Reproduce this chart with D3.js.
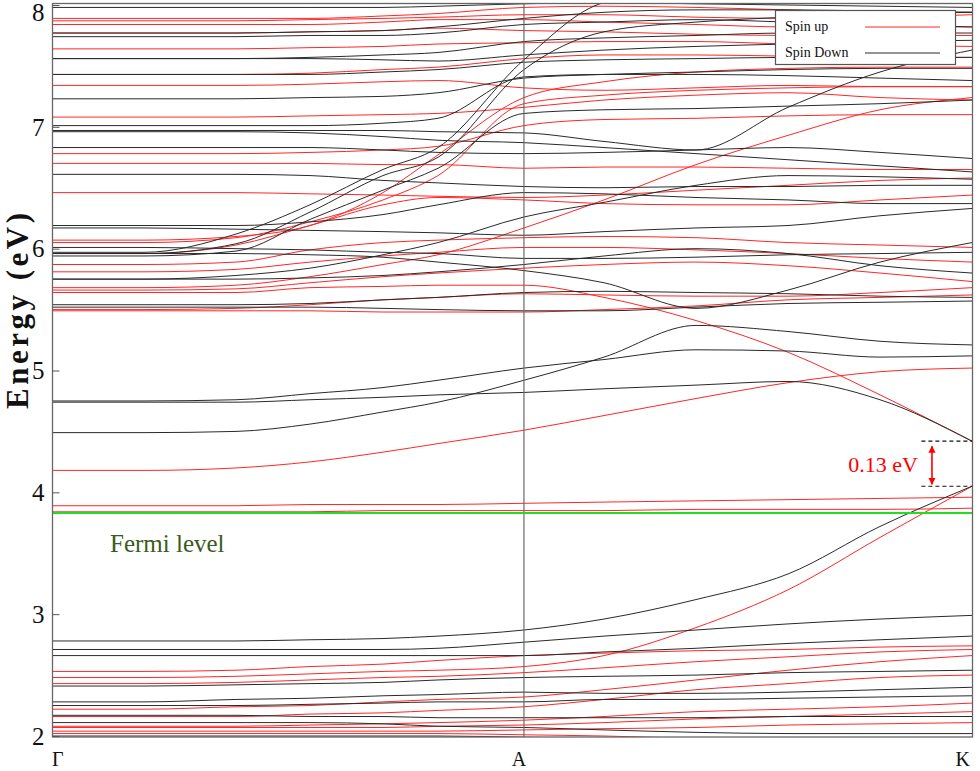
<!DOCTYPE html>
<html><head><meta charset="utf-8">
<script src="https://cdn.jsdelivr.net/npm/d3@7"></script>
<style>
body{margin:0;background:#fff}
svg text{font-family:"Liberation Serif","Times New Roman",serif}
</style>
</head><body>
<svg id="chart" width="980" height="771"></svg>
<script>
// ---- data ----
const kPath = [0, 0.1, 0.2, 0.2804, 0.3598, 0.4196, 0.513, 0.6, 0.7, 0.8, 0.9, 1];
const kTickPos = [0, 0.513, 1];
const kLabels = ["Γ", "A", "K"];
const yTicks = [2, 3, 4, 5, 6, 7, 8];
const fermiLevel = 3.83;
const gapTop = 4.42, gapBottom = 4.05;
const gapLabel = "0.13 eV";
const gapMarkerK = [0.945, 1];
const gapArrowK = 0.9565;
const legendLabels = ["Spin up", "Spin Down"];

// spin up (red) bands, energies (eV) at kPath
const spinUp = [
  [7.89,7.89,7.89,7.89,7.91,7.93,7.98,7.99,7.98,7.96,7.94,7.94],
  [7.87,7.87,7.87,7.88,7.89,7.90,7.92,7.92,7.90,7.89,7.90,7.92],
  [7.84,7.84,7.84,7.84,7.86,7.88,7.88,7.86,7.84,7.82,7.82,7.82],
  [7.77,7.77,7.77,7.78,7.79,7.81,7.79,7.78,7.76,7.75,7.75,7.75],
  [7.64,7.64,7.64,7.65,7.66,7.68,7.69,7.70,7.70,7.68,7.67,7.66],
  [7.43,7.43,7.43,7.44,7.47,7.49,7.56,7.59,7.59,7.58,7.57,7.57],
  [7.34,7.34,7.34,7.35,7.37,7.38,7.32,7.30,7.32,7.34,7.33,7.33],
  [7.08,7.08,7.08,7.09,7.10,7.11,7.16,7.22,7.26,7.28,7.24,7.22],
  [6.78,6.78,6.78,6.79,6.81,6.84,7.01,7.06,7.07,7.09,7.10,7.10],
  [6.70,6.70,6.70,6.70,6.69,6.69,6.66,6.67,6.67,6.66,6.65,6.65],
  [6.46,6.46,6.46,6.45,6.44,6.43,6.42,6.44,6.48,6.52,6.56,6.58],
  [5.68,5.68,5.70,5.77,5.87,5.95,6.17,6.40,6.69,6.93,7.14,7.24],
  [6.07,6.07,6.10,6.19,6.46,6.77,7.24,7.37,7.45,7.48,7.49,7.49],
  [6.05,6.05,6.09,6.22,6.40,6.60,7.19,7.26,7.30,7.32,7.33,7.33],
  [5.96,5.96,6.03,6.19,6.36,6.42,6.40,6.37,6.36,6.36,6.40,6.44],
  [5.87,5.87,5.89,5.99,6.05,6.07,6.09,6.10,6.09,6.05,6.03,6.01],
  [5.81,5.81,5.83,5.89,5.94,5.97,6.01,6.01,5.99,5.96,5.92,5.89],
  [5.66,5.66,5.67,5.72,5.77,5.80,5.84,5.87,5.89,5.86,5.80,5.73],
  [5.64,5.64,5.64,5.68,5.69,5.70,5.70,5.60,5.41,5.15,4.80,4.42],
  [5.50,5.50,5.51,5.54,5.58,5.60,5.63,5.62,5.61,5.61,5.64,5.68],
  [5.49,5.49,5.49,5.49,5.48,5.48,5.48,5.50,5.53,5.58,5.60,5.62],
  [4.18,4.18,4.20,4.25,4.33,4.40,4.51,4.63,4.77,4.90,4.99,5.02],
  [3.89,3.89,3.89,3.90,3.90,3.90,3.91,3.92,3.93,3.94,3.95,3.96],
  [3.84,3.84,3.84,3.84,3.85,3.85,3.85,3.85,3.86,3.86,3.86,3.87],
  [2.53,2.53,2.54,2.57,2.59,2.62,2.66,2.68,2.70,2.71,2.73,2.74],
  [2.48,2.48,2.49,2.51,2.53,2.54,2.57,2.66,2.89,3.20,3.63,4.05],
  [2.43,2.43,2.44,2.46,2.48,2.49,2.52,2.56,2.61,2.65,2.69,2.71],
  [2.22,2.22,2.24,2.25,2.28,2.30,2.32,2.38,2.46,2.54,2.61,2.66],
  [2.16,2.16,2.16,2.18,2.19,2.21,2.24,2.30,2.38,2.43,2.48,2.50],
  [2.08,2.08,2.08,2.09,2.10,2.11,2.13,2.16,2.20,2.22,2.24,2.27],
  [2.07,2.07,2.07,2.07,2.07,2.08,2.09,2.11,2.14,2.16,2.18,2.20],
  [2.04,2.04,2.04,2.04,2.04,2.04,2.05,2.06,2.07,2.09,2.10,2.11],
  [2.02,2.02,2.02,2.02,2.02,2.02,2.01,2.00,1.98,1.97,1.95,1.93]
];

// spin down (black) bands
const spinDown = [
  [7.98,7.98,7.98,7.98,7.98,7.99,8.01,8.02,8.01,8.00,7.99,7.98],
  [7.77,7.77,7.77,7.78,7.79,7.82,7.89,7.94,7.96,7.96,7.95,7.94],
  [7.74,7.74,7.74,7.75,7.75,7.77,7.84,7.86,7.88,7.86,7.84,7.82],
  [7.56,7.56,7.56,7.57,7.59,7.61,7.70,7.73,7.75,7.77,7.77,7.77],
  [7.56,7.56,7.56,7.56,7.55,7.54,7.59,7.63,7.66,7.68,7.70,7.71],
  [7.43,7.43,7.43,7.43,7.45,7.47,7.53,7.55,7.56,7.57,7.57,7.57],
  [7.23,7.23,7.23,7.24,7.25,7.28,7.40,7.43,7.45,7.47,7.48,7.48],
  [7.01,7.01,7.01,7.01,7.03,7.07,7.41,7.43,7.43,7.42,7.40,7.38],
  [6.97,6.97,6.97,6.97,6.97,6.96,6.95,6.88,6.81,7.16,7.45,7.63],
  [6.96,6.96,6.96,6.95,6.92,6.89,6.87,6.83,6.78,6.73,6.68,6.63],
  [6.83,6.83,6.83,6.83,6.81,6.79,6.78,6.79,6.81,6.83,6.79,6.74],
  [6.61,6.61,6.61,6.60,6.56,6.54,6.51,6.50,6.51,6.51,6.52,6.52],
  [6.19,6.19,6.19,6.22,6.28,6.36,6.46,6.45,6.42,6.40,6.37,6.37],
  [6.17,6.17,6.16,6.15,6.14,6.13,6.11,6.14,6.17,6.19,6.27,6.33],
  [6.01,6.01,6.00,5.99,5.97,5.96,5.92,5.92,5.93,5.95,5.96,5.97],
  [5.97,5.97,6.12,6.36,6.65,6.83,7.55,8.02,8.12,8.12,8.12,8.12],
  [5.96,5.96,6.04,6.30,6.60,6.75,7.47,7.78,7.86,7.90,7.93,7.94],
  [5.94,5.94,5.98,6.24,6.48,6.66,7.11,7.14,7.15,7.17,7.19,7.22],
  [5.96,5.96,5.96,5.95,5.93,5.89,5.82,5.72,5.51,5.66,5.89,6.05],
  [5.75,5.75,5.75,5.76,5.78,5.81,5.87,5.94,6.00,5.96,5.86,5.80],
  [5.75,5.75,5.78,5.84,5.95,6.05,6.26,6.38,6.52,6.60,6.59,6.57],
  [5.54,5.54,5.54,5.55,5.58,5.60,5.64,5.65,5.64,5.63,5.61,5.60],
  [5.52,5.52,5.52,5.52,5.51,5.50,5.49,5.49,5.52,5.55,5.56,5.57],
  [4.49,4.49,4.50,4.56,4.66,4.74,4.92,5.11,5.37,5.32,5.24,5.21],
  [4.75,4.75,4.76,4.81,4.86,4.92,5.02,5.09,5.17,5.16,5.11,5.12],
  [4.74,4.74,4.74,4.76,4.78,4.80,4.82,4.85,4.88,4.91,4.76,4.42],
  [2.78,2.78,2.78,2.79,2.80,2.82,2.87,2.96,3.12,3.33,3.72,4.05],
  [2.71,2.71,2.71,2.71,2.71,2.72,2.77,2.82,2.87,2.92,2.96,2.99],
  [2.66,2.66,2.66,2.66,2.66,2.66,2.66,2.69,2.72,2.76,2.79,2.82],
  [2.41,2.41,2.42,2.43,2.44,2.46,2.48,2.49,2.50,2.52,2.53,2.54],
  [2.28,2.28,2.30,2.31,2.33,2.34,2.36,2.35,2.35,2.36,2.38,2.40],
  [2.25,2.25,2.25,2.26,2.27,2.28,2.28,2.30,2.30,2.31,2.32,2.33],
  [2.17,2.17,2.17,2.16,2.16,2.15,2.15,2.15,2.15,2.16,2.16,2.16],
  [2.11,2.11,2.11,2.11,2.10,2.08,2.07,2.05,2.03,2.02,2.02,2.02],
  [2.00,2.00,2.00,2.00,2.00,2.00,1.99,1.98,1.97,1.95,1.93,1.92]
];

// ---- drawing ----
const svg = d3.select("#chart");
const pLeft = 52, pRight = 972, pTop = 3, pBottom = 737;
const x = d3.scaleLinear().domain([0, 1]).range([pLeft, pRight]);
const y = d3.scaleLinear().domain([2, 8]).range([736, 5]);

const defs = svg.append("defs");
defs.append("clipPath").attr("id", "plotclip")
  .append("rect").attr("x", pLeft).attr("y", pTop).attr("width", pRight - pLeft).attr("height", pBottom - pTop);

["start", "end"].forEach(kind => {
  defs.append("marker").attr("id", "arr-" + kind)
    .attr("viewBox", "0 0 10 10").attr("refX", 9).attr("refY", 5)
    .attr("markerWidth", 4.5).attr("markerHeight", 4.5).attr("orient", "auto-start-reverse")
    .append("path").attr("d", "M0,0 L10,5 L0,10 Z").attr("fill", "#ff0000");
});

const line = d3.line()
  .x((d, i) => x(kPath[i]))
  .y(d => y(d))
  .curve(d3.curveMonotoneX);

const plot = svg.append("g").attr("clip-path", "url(#plotclip)");

plot.selectAll("path.up").data(spinUp).enter().append("path")
  .attr("class", "up").attr("d", line)
  .attr("fill", "none").attr("stroke", "#ff2626").attr("stroke-width", 1);

plot.selectAll("path.down").data(spinDown).enter().append("path")
  .attr("class", "down").attr("d", line)
  .attr("fill", "none").attr("stroke", "#2a2a2a").attr("stroke-width", 1);

// A vertical line
plot.append("line").attr("x1", x(kTickPos[1])).attr("x2", x(kTickPos[1]))
  .attr("y1", pTop).attr("y2", pBottom).attr("stroke", "#6a6a6a").attr("stroke-width", 1.2);

// Fermi level
plot.append("line").attr("x1", pLeft).attr("x2", pRight)
  .attr("y1", y(fermiLevel)).attr("y2", y(fermiLevel))
  .attr("stroke", "#22dd22").attr("stroke-width", 2);

svg.append("text").attr("x", 110).attr("y", y(fermiLevel) + 39)
  .attr("font-size", 25).attr("fill", "#3b5a22").text("Fermi level");

// frame
svg.append("rect").attr("x", pLeft + 0.5).attr("y", pTop + 0.5)
  .attr("width", pRight - pLeft).attr("height", pBottom - pTop - 0.5)
  .attr("fill", "none").attr("stroke", "#666").attr("stroke-width", 1.3);

// y axis
const yAxis = svg.append("g").attr("transform", `translate(${pLeft + 0.5},0)`)
  .call(d3.axisLeft(y).tickValues(yTicks).tickSize(-7).tickPadding(8).tickFormat(d3.format("d")));
yAxis.select(".domain").remove();
yAxis.selectAll(".tick line").attr("stroke", "#555");
yAxis.selectAll(".tick text").attr("font-size", 25).attr("fill", "#111")
  .style("font-family", '"Liberation Serif", serif')
  .attr("dy", d => d === 8 ? "0.62em" : "0.33em");

// y title
svg.append("text").attr("transform", "translate(28,311) rotate(-90)")
  .attr("text-anchor", "middle").attr("font-size", 31).attr("font-weight", "bold")
  .attr("textLength", 196).attr("lengthAdjust", "spacing")
  .attr("fill", "#111").text("Energy (eV)");

// x labels
svg.selectAll("text.klab").data(kLabels).enter().append("text")
  .attr("class", "klab")
  .attr("x", (d, i) => x(kTickPos[i]) + (i === 1 ? -5 : i === 2 ? -2 : 0))
  .attr("y", 766)
  .attr("text-anchor", (d, i) => i === 0 ? "start" : i === 1 ? "middle" : "end")
  .attr("font-size", 20).attr("fill", "#111").text(d => d);

// gap annotation
[gapTop, gapBottom].forEach(e => {
  svg.append("line").attr("x1", x(gapMarkerK[0])).attr("x2", x(gapMarkerK[1]))
    .attr("y1", y(e)).attr("y2", y(e))
    .attr("stroke", "#111").attr("stroke-width", 1.2).attr("stroke-dasharray", "4,3");
});
svg.append("line").attr("x1", x(gapArrowK)).attr("x2", x(gapArrowK))
  .attr("y1", y(gapTop) + 5).attr("y2", y(gapBottom) - 2)
  .attr("stroke", "#ff0000").attr("stroke-width", 1.6)
  .attr("marker-start", "url(#arr-start)").attr("marker-end", "url(#arr-end)");
svg.append("text").attr("x", x(gapArrowK) - 14).attr("y", (y(gapTop) + y(gapBottom)) / 2 + 8)
  .attr("text-anchor", "end").attr("font-size", 22).attr("fill", "#ff0000").text(gapLabel);

// legend
const lg = svg.append("g");
lg.append("rect").attr("x", 775.5).attr("y", 10.5).attr("width", 180).attr("height", 54)
  .attr("fill", "#fff").attr("stroke", "#555").attr("stroke-width", 1.2);
const legendColors = ["#ff2626", "#2a2a2a"];
legendLabels.forEach((lab, i) => {
  lg.append("text").attr("x", 785).attr("y", 31 + i * 26).attr("font-size", 14)
    .attr("fill", "#111").text(lab);
  lg.append("line").attr("x1", 865).attr("x2", 940)
    .attr("y1", 27 + i * 26).attr("y2", 27 + i * 26)
    .attr("stroke", legendColors[i]).attr("stroke-width", 1.2);
});
</script>
</body></html>
